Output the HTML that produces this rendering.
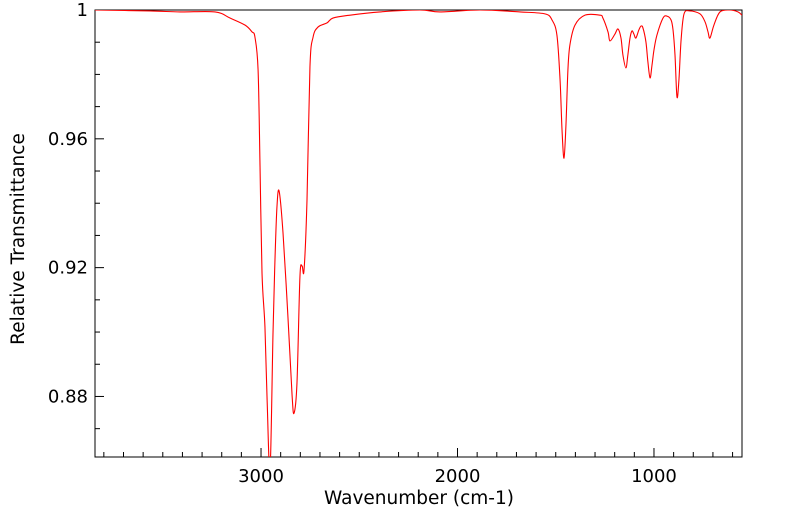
<!DOCTYPE html>
<html><head><meta charset="utf-8"><style>
html,body{margin:0;padding:0;background:#fff;}
svg{display:block;font-family:"DejaVu Sans","Liberation Sans",sans-serif;}
</style></head><body>
<svg id="chart" width="799" height="516">
<defs><clipPath id="clip"><rect x="95" y="10" width="647" height="447"/></clipPath></defs>
<rect x="95" y="10" width="647" height="447" fill="#fff" stroke="#000" stroke-width="1"/>
<g id="ticks"></g>
<path id="line" clip-path="url(#clip)" fill="none" stroke="#ff0000" stroke-width="1.1" stroke-linejoin="round"/>
<text x="419" y="504" font-size="18.5" text-anchor="middle">Wavenumber (cm-1)</text>
<text transform="translate(24,239) rotate(-90)" font-size="18.5" text-anchor="middle">Relative Transmittance</text>
</svg>
<script>
const wavenumbers=[3845,3565,3412,3234,3158,3081,3046,3031,3015,3005,2995,2980,2969,2954,2939,2929,2919,2908,2888,2863,2842,2832,2817,2802,2791,2781,2766,2751,2735,2710,2664,2634,2547,2394,2191,2089,1886,1682,1555,1519,1494,1478,1468,1458,1448,1438,1428,1402,1351,1275,1260,1234,1224,1199,1183,1168,1158,1143,1133,1122,1112,1102,1092,1077,1066,1056,1041,1031,1020,1010,1000,985,954,934,913,903,893,883,873,862,847,817,766,740,725,715,695,664,613,573,552];
const transmittance=[1,0.9997,0.9994,0.9994,0.9975,0.9953,0.9932,0.9916,0.9814,0.9512,0.9183,0.9016,0.8789,0.8571,0.8997,0.9224,0.9388,0.9438,0.9307,0.9047,0.8804,0.8748,0.8842,0.9171,0.9205,0.9193,0.9410,0.9823,0.9916,0.9947,0.9960,0.9975,0.9984,0.9994,1,0.9994,1,0.9994,0.9988,0.9969,0.9922,0.9783,0.9627,0.9540,0.9643,0.9814,0.9891,0.9953,0.9984,0.9984,0.9975,0.9932,0.9904,0.9925,0.9941,0.9913,0.9860,0.9820,0.9860,0.9913,0.9935,0.9925,0.9913,0.9938,0.9950,0.9944,0.9901,0.9839,0.9789,0.9829,0.9876,0.9922,0.9975,0.9981,0.9969,0.9938,0.9860,0.9730,0.9783,0.9907,0.9988,0.9997,0.9988,0.9963,0.9932,0.9913,0.9953,0.9994,1,0.9994,0.9984];
const xTickLabels=[3000,2000,1000];
const yTickLabels=[0.88,0.92,0.96,1];
const X0=95,X1=742,Y0=457,Y1=10;
const W_MAX=3845,W_MIN=552,T_MIN=0.8612,T_MAX=1.0;
function xs(w){return X0+(W_MAX-w)/(W_MAX-W_MIN)*(X1-X0);}
function ys(t){return Y0-(t-T_MIN)/(T_MAX-T_MIN)*(Y0-Y1);}
const NS='http://www.w3.org/2000/svg';
const P=wavenumbers.map((w,i)=>[xs(w),ys(transmittance[i])]);
let d='M'+P[0][0].toFixed(2)+','+P[0][1].toFixed(2);
for(let i=0;i<P.length-1;i++){
  const p0=P[Math.max(0,i-1)],p1=P[i],p2=P[i+1],p3=P[Math.min(P.length-1,i+2)];
  const c1=[p1[0]+(p2[0]-p0[0])/6,p1[1]+(p2[1]-p0[1])/6];
  const c2=[p2[0]-(p3[0]-p1[0])/6,p2[1]-(p3[1]-p1[1])/6];
  d+='C'+c1[0].toFixed(2)+','+c1[1].toFixed(2)+' '+c2[0].toFixed(2)+','+c2[1].toFixed(2)+' '+p2[0].toFixed(2)+','+p2[1].toFixed(2);
}
document.getElementById('line').setAttribute('d',d);
const g=document.getElementById('ticks');
function line(x1,y1,x2,y2){const l=document.createElementNS(NS,'line');l.setAttribute('x1',x1);l.setAttribute('y1',y1);l.setAttribute('x2',x2);l.setAttribute('y2',y2);l.setAttribute('stroke','#000');l.setAttribute('stroke-width','1');


g.appendChild(l);}
function text(x,y,s,anchor,name){const t=document.createElementNS(NS,'text');t.setAttribute('x',x);t.setAttribute('y',y);t.setAttribute('font-size','18');t.setAttribute('text-anchor',anchor);t.textContent=s;


g.appendChild(t);}
for(let w=3800;w>=600;w-=100){const x=xs(w);const major=w%1000===0;line(x,Y0,x,Y0-(major?9:5));}
xTickLabels.forEach(w=>text(xs(w),482,String(w),'middle','x-tick-label'));
for(let k=87;k<=100;k++){const t=k/100;const y=ys(t);const major=(k%4===0);line(X0,y,X0+(major?9:5),y);}
yTickLabels.forEach(t=>text(88,ys(t)+6,t===1?'1':String(t),'end','y-tick-label'));
</script>
</body></html>
